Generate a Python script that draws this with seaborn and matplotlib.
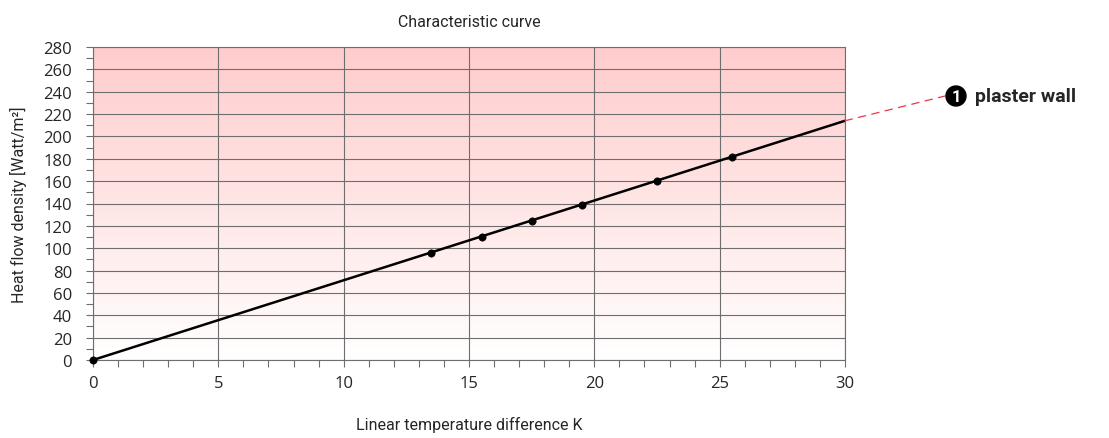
import matplotlib.pyplot as plt
import numpy as np
import pandas as pd
import seaborn as sns
from matplotlib.ticker import MultipleLocator

# measured points and the fitted characteristic line
temp_diff = [0, 13.5, 15.5, 17.5, 19.5, 22.5, 25.5]
heat_flow = [0, 96, 110, 124, 139, 160, 182]
line_x = [0, 30]
line_y = [0, 214]
label = "plaster wall"

sns.set_style("white")
plt.rcParams['font.family'] = ['Roboto', 'DejaVu Sans']

fig = plt.figure(figsize=(11.09, 4.39), dpi=100)
ax = fig.add_axes([93/1109, 1-361/439, 752/1109, 313/439])

# pink-to-white gradient background
grad = np.linspace(0, 1, 256).reshape(-1, 1)
top = np.array([1.0, 0.80, 0.80])
bot = np.array([1.0, 1.0, 1.0])
img = bot + (top - bot) * grad
ax.imshow(img[:, None, :].repeat(2, axis=1), extent=[0, 30, 0, 280], origin='lower',
          aspect='auto', zorder=0)

df_line = pd.DataFrame({"x": line_x, "y": line_y})
df_pts = pd.DataFrame({"x": temp_diff, "y": heat_flow})
sns.lineplot(data=df_line, x="x", y="y", color="black", linewidth=1.8, ax=ax, zorder=3)
sns.scatterplot(data=df_pts, x="x", y="y", color="black", s=28, edgecolor="black", ax=ax,
                zorder=4, clip_on=False)

ax.set_xlim(0, 30)
ax.set_ylim(0, 280)
ax.xaxis.set_major_locator(MultipleLocator(5))
ax.xaxis.set_minor_locator(MultipleLocator(1))
ax.yaxis.set_major_locator(MultipleLocator(20))
ax.yaxis.set_minor_locator(MultipleLocator(10))
ax.grid(True, which='major', color='#6e6e6e', linewidth=0.8, zorder=1)
ax.set_axisbelow(False)
for s in ax.spines.values():
    s.set_color('#6e6e6e')
    s.set_linewidth(0.8)
ax.tick_params(axis='both', which='both', direction='out', color='#6e6e6e', width=0.8,
               bottom=True, left=True, length=5)
ax.tick_params(axis='x', which='major', labelsize=12, pad=6)
ax.tick_params(axis='y', which='major', labelsize=12, pad=10)
for t in ax.get_xticklabels() + ax.get_yticklabels():
    t.set_family(['Open Sans', 'DejaVu Sans'])

ax.set_xlabel("Linear temperature difference K", fontsize=11.5, labelpad=18)
ax.set_ylabel("Heat flow density [Watt/m²]", fontsize=11.5, labelpad=12)
ax.set_title("Characteristic curve", fontsize=11.5, pad=15)

# dashed leader to the label
ax.annotate("", xy=(945/1109, 1-97/439), xycoords='figure fraction',
            xytext=(30, 214), textcoords='data',
            arrowprops=dict(arrowstyle='-', color='#e8374a', linestyle=(0, (6, 5)),
                            linewidth=0.9, shrinkA=0, shrinkB=0), annotation_clip=False)
fig.text(956/1109, 1-97/439, "1", ha='center', va='center', color='white',
         fontsize=12, fontweight='bold',
         bbox=dict(boxstyle='circle,pad=0.15', fc='black', ec='black'))
fig.text(975/1109, 1-97/439, label, ha='left', va='center', fontsize=14,
         fontweight='bold')

fig.savefig("out.png", dpi=100)
